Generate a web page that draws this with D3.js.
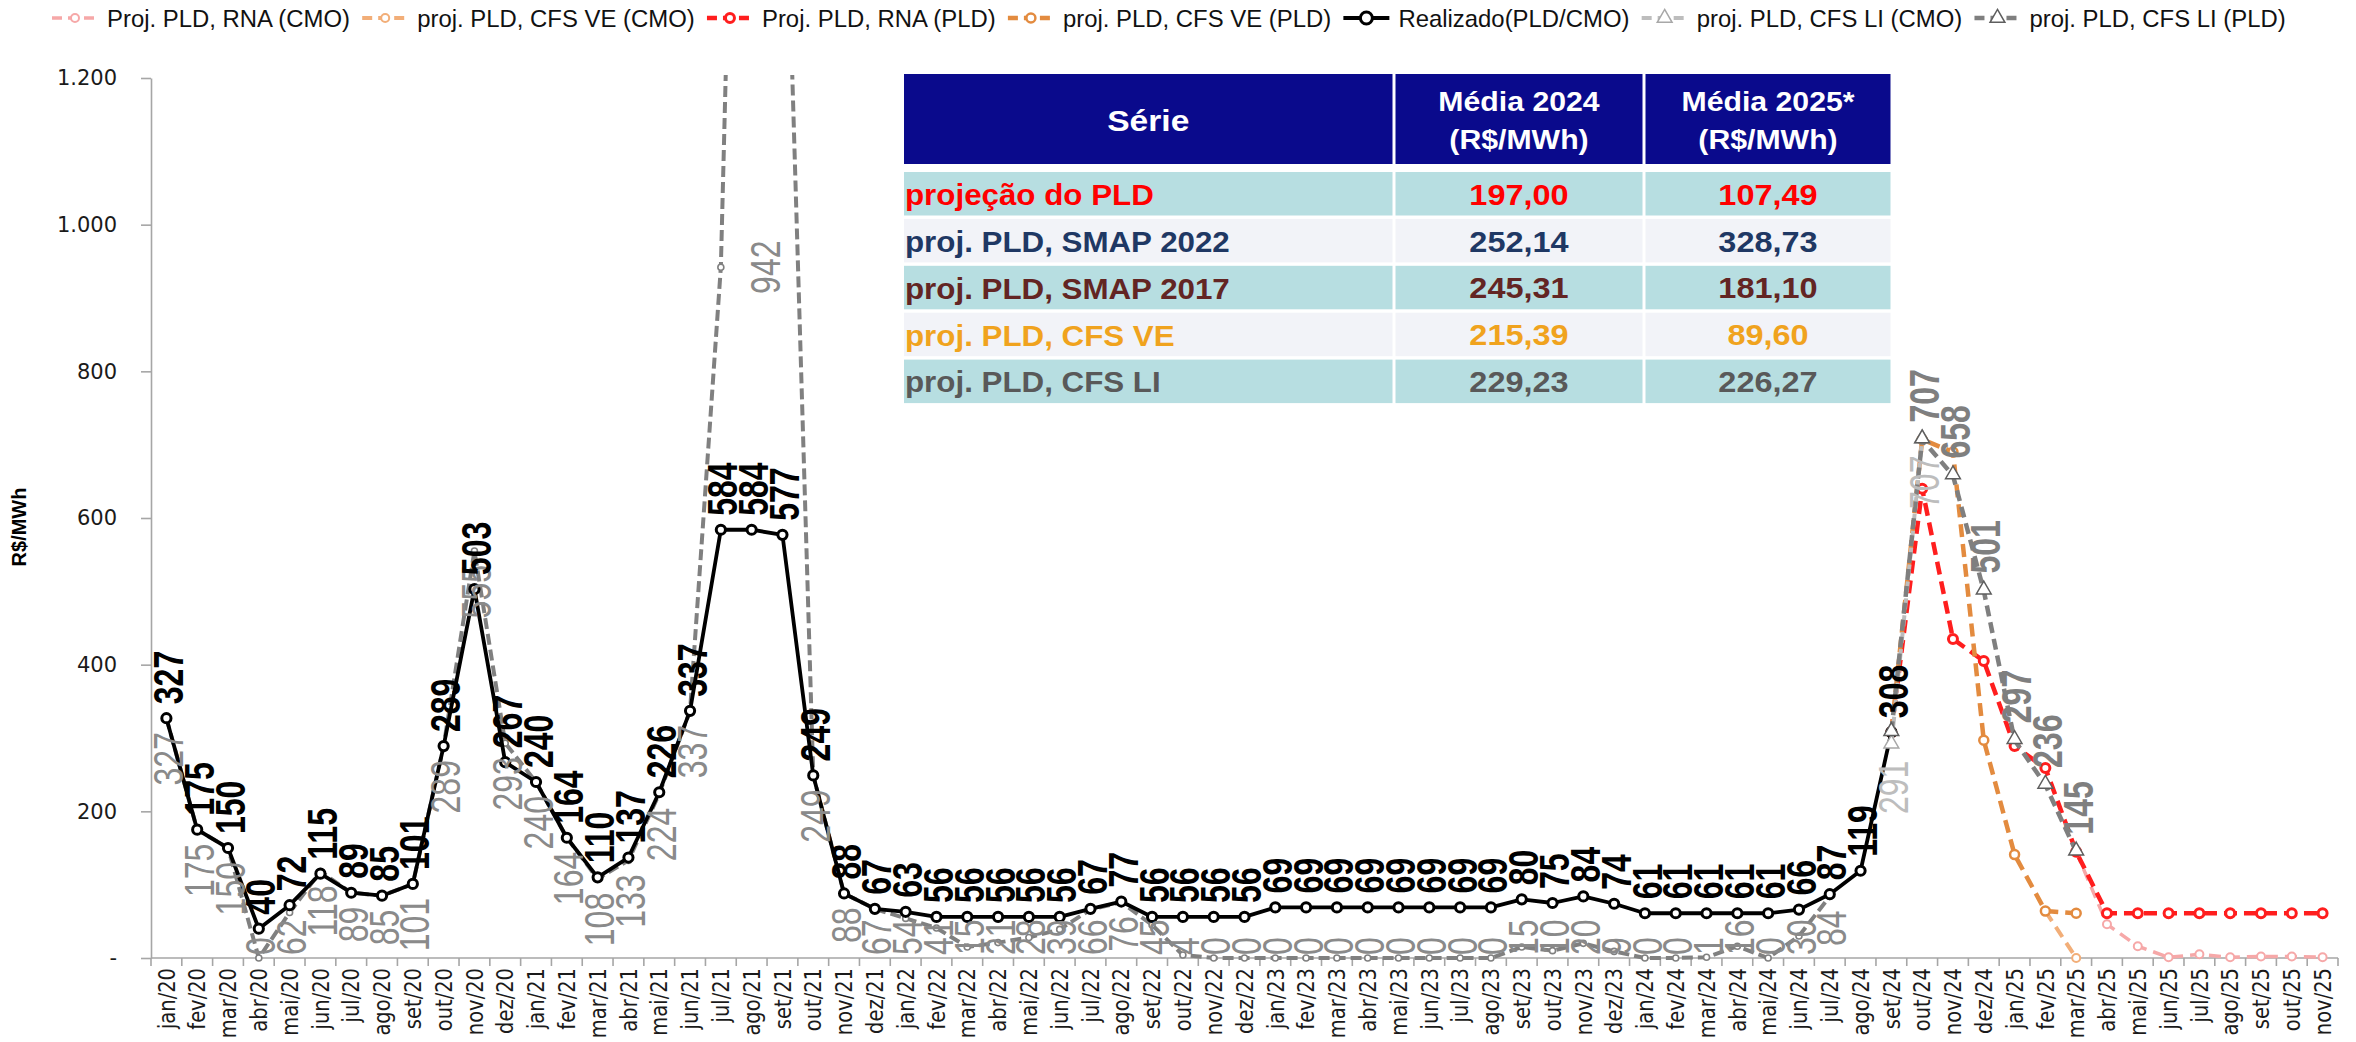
<!DOCTYPE html>
<html lang="pt-BR">
<head>
<meta charset="utf-8">
<title>PLD - Realizado e projeções</title>
<script src="https://cdn.jsdelivr.net/npm/d3@7/dist/d3.min.js"></script>
<style>
  html, body { margin:0; padding:0; background:#ffffff; overflow:hidden; }
  svg { display:block; }
</style>
</head>
<body>
<svg id="chart" width="2356" height="1042" xmlns="http://www.w3.org/2000/svg"></svg>
<script>
// ================= DATA =================
const categories = [
  "jan/20","fev/20","mar/20","abr/20","mai/20","jun/20","jul/20","ago/20","set/20","out/20","nov/20","dez/20",
  "jan/21","fev/21","mar/21","abr/21","mai/21","jun/21","jul/21","ago/21","set/21","out/21","nov/21","dez/21",
  "jan/22","fev/22","mar/22","abr/22","mai/22","jun/22","jul/22","ago/22","set/22","out/22","nov/22","dez/22",
  "jan/23","fev/23","mar/23","abr/23","mai/23","jun/23","jul/23","ago/23","set/23","out/23","nov/23","dez/23",
  "jan/24","fev/24","mar/24","abr/24","mai/24","jun/24","jul/24","ago/24","set/24","out/24","nov/24","dez/24",
  "jan/25","fev/25","mar/25","abr/25","mai/25","jun/25","jul/25","ago/25","set/25","out/25","nov/25"
];
const yTickValues = [0, 200, 400, 600, 800, 1000, 1200];
const yTickLabels = ["-", "200", "400", "600", "800", "1.000", "1.200"];
const yAxisTitle = "R$/MWh";

// Realizado (PLD/CMO) - from jan/20
const realizadoStart = "jan/20";
const realizado = [
  327,175,150,40,72,115,89,85,101,289,503,267,
  240,164,110,137,226,337,584,584,577,249,88,67,
  63,56,56,56,56,56,67,77,56,56,56,56,
  69,69,69,69,69,69,69,69,80,75,84,74,
  61,61,61,61,61,66,87,119,308
];
// CMO realizado (gray dashed) - from jan/20
const cmoStart = "jan/20";
const cmoRealizado = [
  327,175,150,0,62,118,89,85,101,289,555,293,
  240,164,108,133,224,337,942,2600,1650,249,88,67,
  54,41,15,21,28,39,66,76,45,4,0,0,
  0,0,0,0,0,0,0,0,15,10,20,9,
  0,0,1,16,0,30,84
];
// Projections
const rnaPLDStart = "set/24";
const rnaPLD = [308,640,435,405,289,259,145,61,61,61,61,61,61,61,61];
const rnaCMOStart = "mar/25";
const rnaCMO = [145,46,16,1,5,1,2,2,1];
const cfsVePLDStart = "set/24";
const cfsVePLD = [308,707,690,297,141,64,61];
const cfsVeCMOStart = "fev/25";
const cfsVeCMO = [64,0];
const cfsLiPLDStart = "set/24";
const cfsLiPLD = [308,707,658,501,297,236,145];
const cfsLiCMOStart = "set/24";
const cfsLiCMO = [291,707];

const legendNames = [
  "Proj. PLD, RNA (CMO)", "proj. PLD, CFS VE (CMO)", "Proj. PLD, RNA (PLD)",
  "proj. PLD, CFS VE (PLD)", "Realizado(PLD/CMO)", "proj. PLD, CFS LI (CMO)", "proj. PLD, CFS LI (PLD)"
];
const legendKeys = ["rnaCMO","cfsVeCMO","rnaPLD","cfsVePLD","realizado","cfsLiCMO","cfsLiPLD"];

// Summary table
const tableHeaders = [["Série"], ["Média 2024", "(R$/MWh)"], ["Média 2025*", "(R$/MWh)"]];
const tableSeries = ["projeção do PLD", "proj. PLD, SMAP 2022", "proj. PLD, SMAP 2017", "proj. PLD, CFS VE", "proj. PLD, CFS LI"];
const media2024 = ["197,00", "252,14", "245,31", "215,39", "229,23"];
const media2025 = ["107,49", "328,73", "181,10", "89,60", "226,27"];

// ================= STYLES =================
const style = {
  cmo:       {color:"#808080", width:4,   dash:"11,5", marker:"circle",   r:3,   ms:1.6},
  rnaCMO:    {color:"#F6A8A8", width:3.5, dash:"12,7", marker:"circle",   r:4,   ms:2},
  cfsVeCMO:  {color:"#F2AE78", width:4,   dash:"12,7", marker:"circle",   r:4,   ms:2},
  rnaPLD:    {color:"#FF1E1E", width:4.5, dash:"13,7", marker:"circle",   r:4.5, ms:3},
  cfsVePLD:  {color:"#E38B3F", width:4.5, dash:"13,7", marker:"circle",   r:4.5, ms:2.5},
  realizado: {color:"#000000", width:3.8, dash:null,   marker:"circle",   r:4.6, ms:3},
  cfsLiCMO:  {color:"#BDBDBD", width:4,   dash:"11,6", marker:"triangle", size:95, ms:1.5},
  cfsLiPLD:  {color:"#7F7F7F", width:4.5, dash:"11,6", marker:"triangle", size:95, ms:1.5}
};
const LABEL_FONT = "'Liberation Sans', Arial, sans-serif";
const AXIS_FONT = "'DejaVu Sans', Verdana, sans-serif";
const LSX = 1.3;   // horizontal stretch of rotated labels

// ================= SCALES =================
const svg = d3.select("#chart");
const X0 = 151, X1 = 2338, Y0 = 958, Y1 = 78;
const x = d3.scaleBand().domain(categories).range([X0, X1]).padding(0);
const y = d3.scaleLinear().domain([0, 1200]).range([Y0, Y1]);
const cx = c => x(c) + x.bandwidth() / 2;
function pts(start, vals) {
  const i0 = categories.indexOf(start);
  return vals.map((v, i) => ({c: categories[i0 + i], v}));
}

// ================= AXES =================
const yAxis = d3.axisLeft(y).tickValues(yTickValues)
  .tickFormat((d, i) => yTickLabels[i]).tickSize(10).tickSizeOuter(0).tickPadding(24);
const gy = svg.append("g").attr("transform", `translate(${X0},0)`).call(yAxis);
gy.select(".domain").attr("stroke", "#a6a6a6").attr("stroke-width", 1.6);
gy.selectAll(".tick line").attr("stroke", "#a6a6a6").attr("stroke-width", 1.6);
gy.selectAll(".tick text").attr("font-family", AXIS_FONT).attr("font-size", 21).attr("fill", "#1a1a1a");

svg.append("text").text(yAxisTitle)
  .attr("transform", `translate(26,527) rotate(-90)`)
  .attr("text-anchor", "middle").attr("font-family", LABEL_FONT)
  .attr("font-weight", "bold").attr("font-size", 20).attr("fill", "#000");

const gx = svg.append("g");
gx.append("line").attr("x1", X0).attr("x2", X1).attr("y1", Y0).attr("y2", Y0)
  .attr("stroke", "#a6a6a6").attr("stroke-width", 1.6);
gx.selectAll("line.tk").data(categories.concat(["__end"])).enter().append("line")
  .attr("class", "tk")
  .attr("x1", d => d === "__end" ? X1 : x(d)).attr("x2", d => d === "__end" ? X1 : x(d))
  .attr("y1", Y0).attr("y2", Y0 + 8).attr("stroke", "#a6a6a6").attr("stroke-width", 1.6);
gx.selectAll("text").data(categories).enter().append("text")
  .text(d => d)
  .attr("text-anchor", "end").attr("dy", "0.35em")
  .attr("font-family", AXIS_FONT).attr("font-size", 19.5).attr("fill", "#1a1a1a")
  .attr("transform", d => `translate(${cx(d)},${Y0 + 10}) scale(1.2,1) rotate(-90)`);

// ================= SERIES =================
svg.append("clipPath").attr("id", "plotclip").append("rect")
  .attr("x", X0 - 20).attr("y", 75).attr("width", X1 - X0 + 40).attr("height", Y0 - 75 + 20);
const plot = svg.append("g").attr("clip-path", "url(#plotclip)");
const line = d3.line().x(d => cx(d.c)).y(d => y(d.v));

function drawSeries(data, s) {
  const g = plot.append("g");
  g.append("path").datum(data).attr("d", line).attr("fill", "none")
    .attr("stroke", s.color).attr("stroke-width", s.width)
    .attr("stroke-dasharray", s.dash).attr("stroke-linejoin", "round");
  if (s.marker === "circle") {
    g.selectAll("circle").data(data).enter().append("circle")
      .attr("cx", d => cx(d.c)).attr("cy", d => y(d.v)).attr("r", s.r)
      .attr("fill", "#fff").attr("stroke", s.color).attr("stroke-width", s.ms);
  } else {
    const sym = d3.symbol(d3.symbolTriangle).size(s.size);
    g.selectAll("path.m").data(data).enter().append("path").attr("class", "m")
      .attr("d", sym).attr("transform", d => `translate(${cx(d.c)},${y(d.v) - 1})`)
      .attr("fill", "#fff").attr("stroke", s.color === "#BDBDBD" ? "#a8a8a8" : "#5e5e5e").attr("stroke-width", s.ms);
  }
}

const sCmo = pts(cmoStart, cmoRealizado);
const sReal = pts(realizadoStart, realizado);
const sRnaPLD = pts(rnaPLDStart, rnaPLD);
const sRnaCMO = pts(rnaCMOStart, rnaCMO);
const sVePLD = pts(cfsVePLDStart, cfsVePLD);
const sVeCMO = pts(cfsVeCMOStart, cfsVeCMO);
const sLiPLD = pts(cfsLiPLDStart, cfsLiPLD);
const sLiCMO = pts(cfsLiCMOStart, cfsLiCMO);

drawSeries(sCmo, style.cmo);
drawSeries(sRnaCMO, style.rnaCMO);
drawSeries(sVeCMO, style.cfsVeCMO);
drawSeries(sRnaPLD, style.rnaPLD);
drawSeries(sVePLD, style.cfsVePLD);
drawSeries(sReal, style.realizado);
drawSeries(sLiCMO, style.cfsLiCMO);
drawSeries(sLiPLD, style.cfsLiPLD);

// ================= DATA LABELS =================
const labels = svg.append("g");
function drawLabels(data, o) {
  data.forEach((d, i) => {
    if (d.v > 1200) return;
    if (o.skipFirst && i === 0) return;
    const px = cx(d.c), py = y(d.v);
    const t = labels.append("text").text(d3.format("d")(d.v))
      .attr("font-family", LABEL_FONT).attr("font-size", o.size)
      .attr("font-weight", o.weight).attr("fill", o.color).attr("dy", "0.35em");
    const L = t.node().getComputedTextLength();
    let X = px + 2, Y, anchor;
    if (o.right && o.right.includes(d.c)) {
      anchor = "middle"; X = px + 45; Y = py;
    } else if (o.pos === "above") {
      anchor = "start"; Y = py - o.gap;
    } else {
      anchor = "end"; Y = py + o.gap;
      if (Y + L > Y0 - 3) Y = Y0 - 3 - L;
    }
    t.attr("text-anchor", anchor)
      .attr("transform", `translate(${X},${Y}) scale(${LSX},1) rotate(-90)`);
  });
}
drawLabels(sCmo, {pos:"below", gap:14, size:32, weight:"normal", color:"#8a8a8a", right:["jul/21"]});
drawLabels(sLiCMO, {pos:"below", gap:16, size:32, weight:"normal", color:"#bdbdbd"});
drawLabels(sReal, {pos:"above", gap:14, size:32, weight:"bold", color:"#000"});
drawLabels(sLiPLD, {pos:"above", gap:17, size:32, weight:"bold", color:"#7f7f7f", skipFirst:true});

// ================= LEGEND =================
const LEG_Y = 18, LEG_X0 = 52, LEG_X1 = 2286, SAMPLE = 46, TGAP = 9, IGAP = 12;
const lg = svg.append("g");
const legTexts = legendNames.map(n => lg.append("text").text(n)
  .attr("font-family", LABEL_FONT).attr("font-size", 24).attr("fill", "#111")
  .attr("dominant-baseline", "central"));
const legW = legTexts.map(t => t.node().getComputedTextLength());
const availW = (LEG_X1 - LEG_X0) - legendNames.length * (SAMPLE + TGAP) - (legendNames.length - 1) * IGAP;
const legSX = availW / d3.sum(legW);
let lx = LEG_X0;
legendKeys.forEach((k, i) => {
  const s = style[k];
  lg.append("line").attr("x1", lx).attr("x2", lx + SAMPLE).attr("y1", LEG_Y).attr("y2", LEG_Y)
    .attr("stroke", s.color).attr("stroke-width", s.width)
    .attr("stroke-dasharray", s.dash ? "10,6" : null);
  const mx = lx + SAMPLE / 2;
  if (s.marker === "circle") {
    lg.append("circle").attr("cx", mx).attr("cy", LEG_Y).attr("r", k === "realizado" ? 6 : s.r)
      .attr("fill", "#fff").attr("stroke", s.color).attr("stroke-width", s.ms);
  } else {
    lg.append("path").attr("d", d3.symbol(d3.symbolTriangle).size(s.size))
      .attr("transform", `translate(${mx},${LEG_Y})`)
      .attr("fill", "#fff").attr("stroke", k === "cfsLiCMO" ? "#a8a8a8" : "#5e5e5e").attr("stroke-width", s.ms);
  }
  legTexts[i].attr("transform", `translate(${lx + SAMPLE + TGAP},${LEG_Y}) scale(${legSX},1)`);
  lx += SAMPLE + TGAP + legW[i] * legSX + IGAP;
});

// ================= TABLE =================
const colEdges = [904, 1394, 1644, 1892];
const rowColors = ["#B7DEE1", "#F2F3F8", "#B7DEE1", "#F2F3F8", "#B7DEE1"];
const rowTextColors = ["#FF0000", "#1F3864", "#632523", "#F0A31E", "#595959"];
const tg = svg.append("g");
const TSX = 1.12;
const HDR_Y = 74, HDR_H = 90, ROW_Y = 172, ROW_P = 46.9, ROW_H = 43.5;
for (let c = 0; c < 3; c++) {
  const x0 = colEdges[c] + (c ? 1.5 : 0), x1 = colEdges[c + 1] - 1.5;
  tg.append("rect").attr("x", x0).attr("y", HDR_Y).attr("width", x1 - x0).attr("height", HDR_H).attr("fill", "#0A0A8C");
  const lines = tableHeaders[c];
  lines.forEach((ln, j) => {
    const ty = lines.length === 1 ? HDR_Y + HDR_H / 2 + 2 : HDR_Y + 28 + j * 38;
    tg.append("text").text(ln)
      .attr("transform", `translate(${(x0 + x1) / 2},${ty}) scale(${TSX},1)`)
      .attr("text-anchor", "middle").attr("dominant-baseline", "central")
      .attr("font-family", LABEL_FONT).attr("font-weight", "bold")
      .attr("font-size", c === 0 ? 30 : 27).attr("fill", "#fff");
  });
}
tableSeries.forEach((name, r) => {
  const ry = ROW_Y + r * ROW_P;
  const vals = [name, media2024[r], media2025[r]];
  for (let c = 0; c < 3; c++) {
    const x0 = colEdges[c] + (c ? 1.5 : 0), x1 = colEdges[c + 1] - 1.5;
    tg.append("rect").attr("x", x0).attr("y", ry).attr("width", x1 - x0).attr("height", ROW_H).attr("fill", rowColors[r]);
    const tx = c === 0 ? x0 + 1 : (x0 + x1) / 2;
    tg.append("text").text(vals[c])
      .attr("transform", `translate(${tx},${ry + ROW_H / 2 + 1}) scale(${c === 0 ? 1.08 : TSX},1)`)
      .attr("text-anchor", c === 0 ? "start" : "middle").attr("dominant-baseline", "central")
      .attr("font-family", LABEL_FONT).attr("font-weight", "bold")
      .attr("font-size", 29).attr("fill", rowTextColors[r]);
  }
});
</script>
</body>
</html>
